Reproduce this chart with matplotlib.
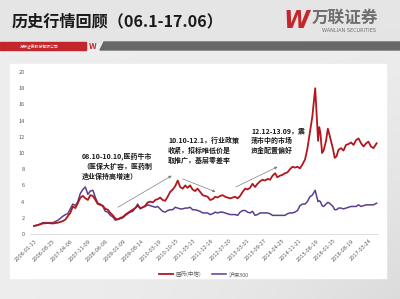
import numpy as np
import pandas as pd
import matplotlib
matplotlib.use("Agg")
import matplotlib.pyplot as plt
import matplotlib.dates as mdates
from matplotlib.patches import Rectangle, Polygon

plt.rcParams['font.family'] = ['Noto Sans CJK SC', 'DejaVu Sans']

# ---- data ----
dates = [
    "2006-01-13", "2006-03-01", "2006-05-01", "2006-07-01", "2006-09-01", "2006-11-01",
    "2007-01-01", "2007-02-01", "2007-03-01", "2007-04-01", "2007-05-01", "2007-06-01",
    "2007-07-01", "2007-08-01", "2007-09-01", "2007-10-01", "2007-11-01", "2007-12-01",
    "2008-01-01", "2008-02-01", "2008-03-01", "2008-04-01", "2008-05-01", "2008-06-01",
    "2008-07-01", "2008-08-01", "2008-09-01", "2008-10-01", "2008-11-01", "2008-12-01",
    "2009-01-01", "2009-02-01", "2009-03-01", "2009-04-01", "2009-05-01", "2009-06-01",
    "2009-07-01", "2009-08-01", "2009-09-01", "2009-10-01", "2009-11-01", "2009-12-01",
    "2010-01-01", "2010-02-01", "2010-03-01", "2010-04-01", "2010-05-01", "2010-06-01",
    "2010-07-01", "2010-08-01", "2010-09-01", "2010-10-01", "2010-11-01", "2010-12-01",
    "2011-01-01", "2011-02-01", "2011-03-01", "2011-04-01", "2011-05-01", "2011-06-01",
    "2011-07-01", "2011-08-01", "2011-09-01", "2011-10-01", "2011-11-01", "2011-12-01",
    "2012-01-01", "2012-02-01", "2012-03-01", "2012-04-01", "2012-05-01", "2012-06-01",
    "2012-07-01", "2012-08-01", "2012-09-01", "2012-10-01", "2012-11-01", "2012-12-01",
    "2013-01-01", "2013-02-01", "2013-03-01", "2013-04-01", "2013-05-01", "2013-06-01",
    "2013-07-01", "2013-08-01", "2013-09-01", "2013-10-01", "2013-11-01", "2013-12-01",
    "2014-01-01", "2014-02-01", "2014-03-01", "2014-04-01", "2014-05-01", "2014-06-01",
    "2014-07-01", "2014-08-01", "2014-09-01", "2014-10-01", "2014-11-01", "2014-12-01",
    "2015-01-01", "2015-02-01", "2015-03-01", "2015-04-01", "2015-05-01", "2015-06-05",
    "2015-06-26", "2015-07-10", "2015-07-24", "2015-08-07", "2015-08-28", "2015-09-15",
    "2015-10-15", "2015-11-06", "2015-11-27", "2016-01-08", "2016-01-29", "2016-02-20",
    "2016-03-15", "2016-04-15", "2016-05-15", "2016-06-15", "2016-07-15", "2016-08-15",
    "2016-09-15", "2016-10-15", "2016-11-15", "2016-12-15", "2017-01-15", "2017-02-15",
    "2017-03-15", "2017-04-15", "2017-05-15", "2017-06-23",
]

pharma = [
    1.00, 1.10, 1.30, 1.35, 1.30, 1.40,
    1.60, 1.80, 2.20, 2.60, 3.40, 3.20,
    3.80, 4.50, 4.70, 4.40, 4.20, 4.80,
    4.70, 4.20, 3.70, 3.60, 3.50, 3.10,
    3.00, 2.60, 2.30, 1.90, 1.80, 2.00,
    2.10, 2.40, 2.60, 2.80, 3.00, 3.20,
    3.50, 3.20, 3.30, 3.50, 3.90, 4.00,
    3.90, 4.20, 4.30, 4.50, 4.20, 4.10,
    4.60, 5.20, 5.50, 5.90, 6.60, 5.80,
    5.60, 6.00, 5.70, 6.00, 5.50, 5.30,
    5.60, 5.20, 4.80, 4.70, 4.60, 4.20,
    4.30, 4.60, 4.50, 4.70, 4.80, 4.60,
    4.50, 4.40, 4.50, 4.60, 4.40, 4.70,
    5.20, 5.60, 5.50, 5.70, 6.20, 5.80,
    6.20, 6.50, 6.70, 6.60, 6.80, 6.70,
    7.20, 7.50, 7.00, 7.20, 7.30, 7.50,
    7.60, 8.00, 8.30, 8.20, 8.30, 8.10,
    8.60, 9.20, 10.5, 12.5, 14.5, 18.0,
    14.0, 11.5, 13.2, 12.5, 10.0, 10.3,
    11.5, 13.0, 12.2, 10.5, 9.4, 9.6,
    10.4, 10.6, 10.3, 11.0, 11.1, 11.3,
    11.0, 11.6, 11.8, 11.2, 10.8, 11.2,
    11.4, 10.8, 10.6, 11.2,
]

hs300 = [
    1.00, 1.10, 1.40, 1.40, 1.40, 1.70,
    2.20, 2.40, 2.50, 3.10, 3.70, 3.50,
    4.00, 5.00, 5.50, 5.80, 4.90, 5.30,
    5.40, 4.50, 3.80, 3.70, 3.40, 2.80,
    2.70, 2.30, 2.10, 1.70, 1.80, 1.90,
    2.00, 2.30, 2.50, 2.70, 2.80, 3.20,
    3.70, 3.10, 3.30, 3.40, 3.60, 3.50,
    3.40, 3.30, 3.40, 3.10, 2.80, 2.70,
    2.90, 3.00, 3.00, 3.30, 3.20, 3.10,
    3.10, 3.20, 3.20, 3.30, 3.00, 3.00,
    2.90, 2.80, 2.60, 2.60, 2.60, 2.40,
    2.50, 2.70, 2.60, 2.70, 2.70, 2.60,
    2.50, 2.40, 2.40, 2.40, 2.30, 2.70,
    2.90, 2.90, 2.70, 2.60, 2.80, 2.30,
    2.40, 2.60, 2.60, 2.60, 2.60, 2.50,
    2.30, 2.30, 2.30, 2.30, 2.30, 2.30,
    2.50, 2.60, 2.60, 2.70, 2.90, 3.50,
    3.70, 3.70, 4.00, 4.60, 4.80, 5.40,
    4.50, 4.00, 4.10, 4.00, 3.50, 3.40,
    3.70, 3.90, 3.80, 3.40, 3.00, 3.00,
    3.20, 3.20, 3.10, 3.20, 3.30, 3.40,
    3.40, 3.40, 3.60, 3.40, 3.50, 3.60,
    3.60, 3.60, 3.60, 3.80,
]

tick_labels = [
    "2006-01-13", "2006-08-25", "2007-04-06", "2007-11-09", "2008-06-06",
    "2009-01-09", "2009-08-14", "2010-03-19", "2010-10-15", "2011-05-13",
    "2011-12-16", "2012-07-20", "2013-03-01", "2013-09-27", "2014-04-25",
    "2014-11-21", "2015-06-19", "2016-01-15", "2016-08-19", "2017-03-24",
]

series_names = ["医药(中信)", "沪深300"]

# ---- figure / slide background ----
W, H = 400, 299
fig = plt.figure(figsize=(4.0, 2.99), dpi=100)

bg = fig.add_axes([0, 0, 1, 1])
bg.set_xlim(0, W)
bg.set_ylim(H, 0)
bg.axis("off")

yy, xx = np.mgrid[0:H, 0:W]
shade = 0.93 - 0.07 * ((xx / W) ** 2) * ((yy / H) ** 1.5) - 0.03 * (yy < 43)
shade = np.clip(shade, 0, 1)
bg.imshow(np.dstack([shade] * 3), extent=(0, W, H, 0), aspect="auto", zorder=0)

# header bar
bg.add_patch(Rectangle((0, 42), 86, 8, color="#c1272d", zorder=1))
bg.add_patch(Polygon([(100, 50), (104, 42), (400, 42), (400, 50)],
                     closed=True, color="#686868", zorder=1))
bg.text(20, 46.5, "万联证券股份有限公司", fontsize=2.8, color="white",
        va="center", ha="left", zorder=2)
bg.text(89, 46.5, "W", fontsize=6, color="#c1272d", style="italic",
        fontweight="bold", va="center", ha="left", zorder=2)

# title + logo
bg.text(12, 21, "历史行情回顾（06.1-17.06）", fontsize=11.6, fontweight="bold",
        color="#1a1a1a", va="center", ha="left")
bg.text(283, 21, "W", fontsize=17, fontweight="bold", style="italic",
        color="#c1272d", va="center", ha="left", family="DejaVu Sans")
bg.text(312, 18, "万联证券", fontsize=12, fontweight="bold", color="#6e6e6e",
        va="center", ha="left")
bg.text(349, 30.5, "WANLIAN SECURITIES", fontsize=3.6, color="#6e6e6e",
        va="center", ha="center", family="DejaVu Sans")

# white chart panel
bg.add_patch(Rectangle((10, 64), 376, 214, color="white", zorder=1))

# ---- chart ----
ax = fig.add_axes([30 / W, 1 - 234 / H, 348 / W, 162 / H])
ax.set_facecolor("none")

d = pd.to_datetime(dates)
ax.plot(d, pharma, color="#b3161c", linewidth=1.3, label=series_names[0], zorder=3)
ax.plot(d, hs300, color="#5a3f8e", linewidth=1.1, label=series_names[1], zorder=2)

ax.set_ylim(0, 20)
ax.set_yticks(np.arange(0, 21, 2))
ax.set_xlim(pd.Timestamp("2005-11-25"), pd.Timestamp("2017-07-10"))
tick_pos = pd.to_datetime(tick_labels)
ax.set_xticks(tick_pos)
ax.set_xticklabels(tick_labels, rotation=45, ha="right", va="top",
                   rotation_mode="anchor", fontsize=3.6, color="#595959",
                   family="DejaVu Sans")
ax.tick_params(axis="y", labelsize=4, labelcolor="#595959", length=0, pad=4)
ax.tick_params(axis="x", length=0, pad=3)
for s in ["top", "right", "left"]:
    ax.spines[s].set_visible(False)
ax.spines["bottom"].set_color("#d9d9d9")
ax.spines["bottom"].set_linewidth(0.6)

leg = ax.legend(loc="upper center", bbox_to_anchor=(0.5, -0.2), ncol=2,
                frameon=False, fontsize=4, handlelength=2.5, columnspacing=2,
                handletextpad=0.5)
for t in leg.get_texts():
    t.set_color("#595959")


def dnum(s):
    return mdates.date2num(pd.Timestamp(s))


arrow_kw = dict(arrowstyle="-|>", color="#7f7f7f", lw=0.5,
                mutation_scale=4, shrinkA=0, shrinkB=0)
ax.annotate("", xy=(dnum("2010-08-20"), 7.2), xytext=(dnum("2008-11-01"), 3.3),
            arrowprops=arrow_kw)
ax.annotate("", xy=(dnum("2012-02-05"), 5.2), xytext=(dnum("2011-01-01"), 6.8),
            arrowprops=arrow_kw)
ax.annotate("", xy=(dnum("2014-03-03"), 8.3), xytext=(dnum("2012-10-08"), 5.8),
            arrowprops=arrow_kw)

note_kw = dict(fontsize=5, fontweight="bold", color="#1a1a1a",
               va="top", ha="left", linespacing=1.45)
bg.text(82, 152, "08.10-10.10,医药牛市\n（医保大扩容，医药制\n造业保持高增速）", **note_kw)
bg.text(168, 137, "10.10-12.1，行业政策\n收紧，招标唯低价是\n取推广，基层零差率", **note_kw)
bg.text(251, 127, "12.12-13.09，震\n荡市中的市场\n资金配置偏好", **note_kw)

fig.savefig("out.png", dpi=100)
